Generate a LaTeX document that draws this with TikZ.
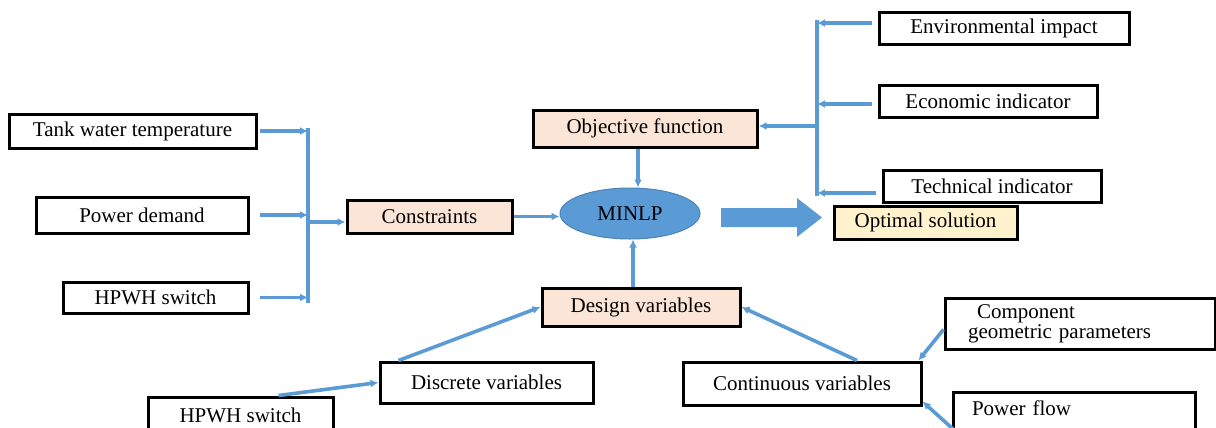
\documentclass[tikz,border=0pt]{standalone}
\usepackage{fontspec}
\setmainfont{Liberation Serif}
\usetikzlibrary{arrows.meta,shapes.geometric}
\definecolor{lineblue}{HTML}{5B9BD5}
\definecolor{peach}{HTML}{FBE5D6}
\definecolor{cream}{HTML}{FFF2CC}
\tikzset{
  box/.style={draw,line width=1.5pt,inner sep=0pt,font=\fontsize{10.5}{12}\selectfont},
  pbox/.style={box,fill=peach},
  arr/.style={draw=lineblue,line width=1.8pt,-{Latex[length=4pt,width=4pt]}},
  bar/.style={draw=lineblue,line width=2.4pt},
}

\begin{document}
\begin{tikzpicture}[x=0.5pt,y=-0.5pt]
    \useasboundingbox (0,0) rectangle (1216,428);
    % inputs on the left
    \node[box,minimum width=123.5pt,minimum height=17pt] (tank) at (132.5,131) {Tank water temperature};
    \node[box,minimum width=106pt,minimum height=18pt] (pd) at (142,215) {Power demand};
    \node[box,minimum width=92.5pt,minimum height=15.5pt] (hp1) at (155.5,297.5) {HPWH switch};
    \node[pbox,minimum width=82.5pt,minimum height=16.5pt] (cons) at (429.5,216.5) {Constraints};

    % core
    \node[pbox,minimum width=112pt,minimum height=18.5pt] (obj) at (645,128.5) {Objective function};
    \node[ellipse,fill=lineblue,draw=lineblue!85!black,line width=0.5pt,minimum width=70pt,minimum height=25.5pt,
          font=\fontsize{10.5}{12}\selectfont] (minlp) at (630,213.5) {MINLP};
    \node[pbox,minimum width=99pt,minimum height=19pt] (dv) at (641,307) {Design variables};
    \node[box,fill=cream,minimum width=91.5pt,minimum height=16.5pt] (opt) at (925.5,222.5) {Optimal solution};

    % indicators on the right
    \node[box,minimum width=125pt,minimum height=16pt] (env) at (1004,28) {Environmental impact};
    \node[box,minimum width=109pt,minimum height=16pt] (econ) at (988,101) {Economic indicator};
    \node[box,minimum width=109pt,minimum height=16pt] (tech) at (992,186) {Technical indicator};

    % variables at the bottom
    \node[box,minimum width=106.5pt,minimum height=20.5pt] (dis) at (486.5,382.5) {Discrete variables};
    \node[box,minimum width=92.5pt,minimum height=18.5pt] (hp2) at (240.5,415.5) {HPWH switch};
    \node[box,minimum width=119pt,minimum height=21.5pt] (cont) at (802,383.5) {Continuous variables};
    \node[box,minimum width=135pt,minimum height=25.5pt,text width=112pt,inner xsep=11.5pt,align=left,
          font=\fontsize{10.5}{10}\selectfont] (comp) at (1080,323.5) {\hspace*{4.5pt}Component\\geometric parameters};
    \node[box,minimum width=121pt,minimum height=21pt,text width=102pt,inner xsep=9.5pt,align=left,
          text depth=5pt] (pf) at (1074,413) {Power flow};

    % left bracket
    \coordinate (lstart) at (260,0);
    \coordinate (lbartop) at (308,128);
    \coordinate (lbarbot) at (308,303);
    \draw[bar] (lbartop) -- (lbarbot);
    \foreach \n in {tank,pd,hp1}
      \draw[arr] (lstart |- \n.east) -- (lbartop |- \n.east);
    \coordinate (cin) at (308,222);
    \draw[arr] (cin) -- (cin -| cons.west);
    \draw[arr] (cons.east) -- (minlp.west |- cons.east);

    % into MINLP
    \draw[arr] ([xshift=-3.5pt]obj.south) -- ([xshift=-3.5pt]obj.south |- minlp.north);
    \draw[arr] ([xshift=-4pt]dv.north) -- ([xshift=-4pt]dv.north |- minlp.south);

    % right bracket
    \coordinate (rbartop) at (817,20);
    \coordinate (rbarbot) at (817,196);
    \draw[bar] (rbartop) -- (rbarbot);
    \foreach \n/\s in {env/2.5pt,econ/-1.5pt,tech/-3.5pt}{
      \path ([xshift=-3pt,yshift=\s]\n.west) coordinate (rin);
      \draw[arr] (rin) -- (rbartop |- rin);
    }
    \coordinate (rmid) at (817,126);
    \draw[arr] (rmid) -- (obj.east |- rmid);

    % block arrow to the solution
    \fill[lineblue] (721,208) -- (797,208) -- (797,198) -- (822,217.5) -- (797,237) -- (797,227) -- (721,227) -- cycle;

    % bottom links
    \draw[arr] ([xshift=19pt]hp2.north) -- (dis.west);
    \draw[arr] ([xshift=-44pt]dis.north) -- (dv.west);
    \draw[arr] ([xshift=27.5pt]cont.north) -- (dv.east);
    \draw[arr] ([yshift=-3pt]comp.west) -- ([xshift=-2pt]cont.north east);
    \draw[arr] ([xshift=1pt,yshift=3pt]pf.south west) -- ([yshift=2.5pt]cont.south east);
\end{tikzpicture}
\end{document}
